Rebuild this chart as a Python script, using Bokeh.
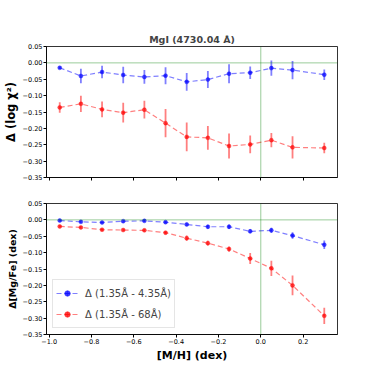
import math
from bokeh.plotting import figure
from bokeh.layouts import column
from bokeh.models import (Range1d, FixedTicker, CustomJSTickFormatter, Span,
                          Legend, LegendItem, ColumnDataSource)
from bokeh.embed import file_html
from bokeh.resources import INLINE

# ---- data ----
mh = [-0.95, -0.85, -0.75, -0.65, -0.55, -0.45, -0.35, -0.25, -0.15, -0.05, 0.05, 0.15, 0.30]

chi_blue = [-0.015, -0.040, -0.028, -0.037, -0.043, -0.039, -0.058, -0.051, -0.033, -0.030, -0.016, -0.022, -0.036]
chi_blue_err = [0.004, 0.022, 0.019, 0.025, 0.021, 0.026, 0.027, 0.026, 0.029, 0.019, 0.023, 0.028, 0.016]
chi_red = [-0.136, -0.125, -0.142, -0.152, -0.143, -0.184, -0.226, -0.229, -0.254, -0.249, -0.236, -0.258, -0.260]
chi_red_err = [0.016, 0.025, 0.024, 0.030, 0.027, 0.043, 0.044, 0.036, 0.038, 0.027, 0.022, 0.034, 0.016]

mg_blue = [-0.002, -0.006, -0.008, -0.004, -0.003, -0.007, -0.014, -0.021, -0.021, -0.035, -0.032, -0.048, -0.076]
mg_blue_err = [0.004, 0.004, 0.004, 0.004, 0.004, 0.004, 0.005, 0.006, 0.007, 0.006, 0.008, 0.010, 0.013]
mg_red = [-0.020, -0.023, -0.030, -0.031, -0.032, -0.039, -0.056, -0.071, -0.089, -0.118, -0.148, -0.200, -0.293]
mg_red_err = [0.004, 0.004, 0.004, 0.004, 0.004, 0.005, 0.008, 0.007, 0.008, 0.017, 0.023, 0.030, 0.025]

labels = ["Δ (1.35Å - 4.35Å)", "Δ (1.35Å - 68Å)"]
title_text = "MgI (4730.04 Å)"
ylabel_top = "Δ (log χ²)"
ylabel_bot = "Δ[Mg/Fe] (dex)"
xlabel = "[M/H] (dex)"
y_ticks = [-0.35, -0.30, -0.25, -0.20, -0.15, -0.10, -0.05, 0.00, 0.05]
x_ticks = [-1.0, -0.8, -0.6, -0.4, -0.2, 0.0, 0.2]

FONT = "DejaVu Sans"

def fmt(dec):
    return CustomJSTickFormatter(code="""
        if (Math.abs(tick) < 1e-9) { return (0).toFixed(%d); }
        const v = tick.toFixed(%d);
        return v.startsWith('-') ? '\\u2212' + v.slice(1) : v;
    """ % (dec, dec))

blank = CustomJSTickFormatter(code="return '';")

def make_fig(top, bottom, show_xlabels):
    p = figure(frame_width=291, frame_height=131, output_backend="svg", toolbar_location=None,
               x_range=Range1d(-1.0125, 0.3625), y_range=Range1d(-0.35, 0.05),
               min_border_left=46, min_border_right=28, min_border_top=top,
               min_border_bottom=bottom)
    p.xgrid.visible = False
    p.ygrid.visible = False
    p.outline_line_color = "black"
    p.outline_line_width = 0.8
    p.background_fill_color = "white"
    p.border_fill_color = "white"
    for ax in (p.xaxis[0], p.yaxis[0]):
        ax.minor_tick_line_color = None
        ax.major_tick_out = 3
        ax.major_tick_in = 0
        ax.major_tick_line_color = "black"
        ax.axis_line_color = "black"
        ax.axis_line_width = 0.8
        ax.major_label_text_font = FONT
        ax.major_label_text_font_size = "6.5px"
        ax.major_label_text_color = "black"
        ax.major_label_standoff = 1
        ax.axis_label_text_font = FONT
        ax.axis_label_text_font_style = "bold"
        ax.axis_label_text_color = "black"
        ax.axis_label_standoff = 2
    p.yaxis[0].ticker = FixedTicker(ticks=y_ticks)
    p.yaxis[0].formatter = fmt(2)
    p.xaxis[0].ticker = FixedTicker(ticks=x_ticks)
    if show_xlabels:
        p.xaxis[0].formatter = fmt(1)
    else:
        p.xaxis[0].formatter = blank
    p.add_layout(Span(location=0, dimension="width", line_color="green", line_alpha=0.4, line_width=1))
    p.add_layout(Span(location=0, dimension="height", line_color="green", line_alpha=0.4, line_width=1))
    return p

def series(p, y, err, color):
    src = ColumnDataSource(dict(x=mh, y=y,
                                lo=[a - e for a, e in zip(y, err)],
                                hi=[a + e for a, e in zip(y, err)]))
    p.segment(x0="x", y0="lo", x1="x", y1="hi", source=src, line_color=color,
              line_alpha=0.5, line_width=1.8)
    ln = p.line("x", "y", source=src, line_color=color, line_alpha=0.5,
                line_width=1.2, line_dash="5 3")
    sc = p.scatter("x", "y", source=src, size=4, fill_color=color, line_color=color,
                   line_width=0.5, fill_alpha=0.7, line_alpha=0.7)
    cr = p.scatter(x=[float("nan")], y=[float("nan")], marker="cross", size=10,
                   line_color=color, line_alpha=0.5, line_width=1.5)
    return [ln, sc, cr]

top = make_fig(46, 13, False)
top.title.text = title_text
top.title.text_font = FONT
top.title.text_font_style = "bold"
top.title.text_font_size = "9.5px"
top.title.align = "center"
top.title.standoff = 3
top.yaxis[0].axis_label = ylabel_top
top.yaxis[0].axis_label_text_font_size = "11.5px"
series(top, chi_blue, chi_blue_err, "blue")
series(top, chi_red, chi_red_err, "red")

bot = make_fig(13, 32, True)
bot.yaxis[0].axis_label = ylabel_bot
bot.yaxis[0].axis_label_text_font_size = "9.5px"
bot.xaxis[0].axis_label = xlabel
bot.xaxis[0].axis_label_text_font_size = "11px"
rb = series(bot, mg_blue, mg_blue_err, "blue")
rr = series(bot, mg_red, mg_red_err, "red")

legend = Legend(items=[LegendItem(label=labels[0], renderers=rb),
                       LegendItem(label=labels[1], renderers=rr)],
                location="bottom_left", margin=6, padding=3, spacing=1,
                glyph_width=22, glyph_height=14, label_height=20, label_standoff=7,
                label_text_font=FONT, label_text_font_size="10px",
                border_line_color="#cccccc", border_line_width=1,
                background_fill_alpha=0.8)
bot.add_layout(legend, "center")

layout = column(top, bot, spacing=0)
open("out.html", "w").write(file_html(layout, INLINE))
